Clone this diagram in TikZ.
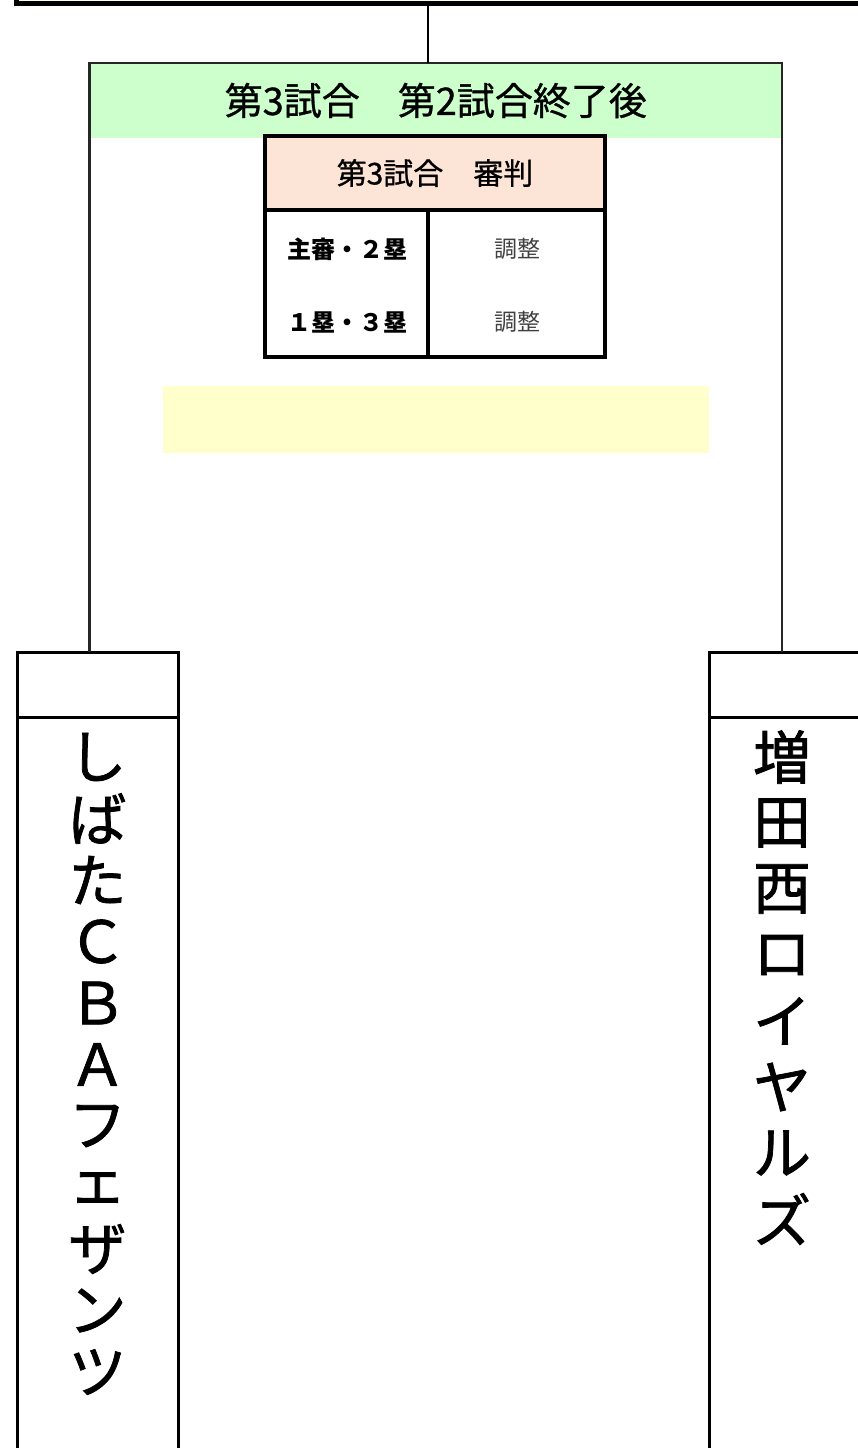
\documentclass[tikz,border=0pt]{standalone}
\usepackage{fontspec}
\newfontfamily\jp{Noto Sans CJK JP}
\newfontfamily\jpb[FakeBold=1.3]{Noto Sans CJK JP}
\newfontfamily\jpm[FakeBold=0.8]{Noto Sans CJK JP}
\definecolor{gfill}{HTML}{CCFFCC}
\definecolor{pfill}{HTML}{FCE4D6}
\definecolor{yfill}{HTML}{FFFFCC}
\definecolor{tbar}{HTML}{FFFFE0}
\tikzset{
  box/.style={inner sep=0pt, outer sep=0pt},
  frameline/.style={line width=2.6pt, draw=black!85},
  tline/.style={line width=4.5pt, draw=black},
  teambox/.style={box, draw=black, line width=3pt, fill=white},
  namechar/.style={inner sep=0pt, font=\jpb\fontsize{58}{58}\selectfont},
  celltext/.style={inner sep=0pt, font=\jp\bfseries\fontsize{24}{24}\selectfont},
  valtext/.style={inner sep=0pt, text=black!75, font=\jp\fontsize{23}{23}\selectfont}
}
\begin{document}
\begin{tikzpicture}[x=1pt,y=-1pt]
\useasboundingbox (0,0) rectangle (858,1448);
% top bar
\node[box, draw=black, line width=5pt, fill=tbar, minimum width=900pt, minimum height=60pt, anchor=south west] (topbar) at (16.5,3.5) {};
% green title band
\node[box, fill=gfill, minimum width=692.5pt, minimum height=75pt] (title) at (435.75,100.5)
  {\jpm\fontsize{38}{38}\selectfont 第3試合　第2試合終了後};
% team boxes
\node[teambox, minimum width=161pt, minimum height=820pt, anchor=north] (lteam) at (97.5,652) {};
\node[teambox, minimum width=170pt, minimum height=820pt, anchor=north west] (rteam) at (709,652) {};
\coordinate (hl) at (0,717);
\draw[line width=3pt] (lteam.west |- hl) -- (lteam.east |- hl);
\draw[line width=3pt] (rteam.west |- hl) -- (rteam.east |- hl);
% frame from title to team boxes
\draw[frameline] (lteam.north -| title.west) -- (title.north west) -- (title.north east) -- (rteam.north -| title.east);
% connector from top bar
\coordinate (jn) at (428,3.5);
\draw[line width=2pt] (jn) -- (jn |- title.north);
% referee table
\node[box, draw=black, line width=4.5pt, fill=pfill, minimum width=340pt, minimum height=74pt] (thead) at (435,173)
  {\jpm\fontsize{30}{30}\selectfont 第3試合　審判};
\node[box, draw=black, line width=4.5pt, minimum width=340pt, minimum height=147pt, anchor=north] (tbody) at (thead.south) {};
\coordinate (dv) at (428,0);
\draw[tline] (tbody.north -| dv) -- (tbody.south -| dv);
\node[celltext] (r1a) at (347,249) {主審・２塁};
\node[celltext] (r2a) at (347,322) {１塁・３塁};
\node[valtext] (r1b) at (517,249) {調整};
\node[valtext] (r2b) at (517,322) {調整};
% yellow note area
\node[box, fill=yfill, minimum width=546pt, minimum height=67pt] (note) at (436,419.5) {};
% team names (vertical)
\foreach \c [count=\i] in {し,ば,た,Ｃ,Ｂ,Ａ,フ,ェ,ザ,ン,ツ}
  \node[namechar] (L\i) at (97.5,{757+61.5*(\i-1)}) {\c};
\foreach \c [count=\i] in {増,田,西,ロ,イ,ヤ,ル,ズ}
  \node[namechar] (R\i) at (782,{757+66*(\i-1)}) {\c};
\end{tikzpicture}
\end{document}
